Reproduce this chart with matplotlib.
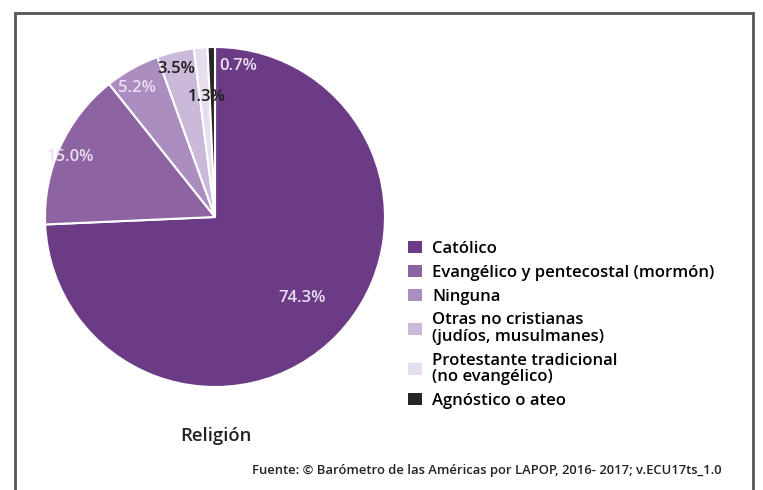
"""
plot.py - Religion pie chart (Barómetro de las Américas, LAPOP 2016-2017).
"""

import matplotlib
matplotlib.use("Agg")
import matplotlib.pyplot as plt
import numpy as np
from matplotlib.patches import Patch, Rectangle

W, H = 763, 490

categories = [
    "Católico",
    "Evangélico y pentecostal (mormón)",
    "Ninguna",
    "Otras no cristianas\n(judíos, musulmanes)",
    "Protestante tradicional\n(no evangélico)",
    "Agnóstico o ateo",
]
shares = [74.3, 15.0, 5.2, 3.5, 1.3, 0.7]

colors = ["#6c3b86", "#8d63a1", "#ac8dbf", "#cbb9d9", "#e6deee", "#262626"]
label_colors = ["#eadff2", "#eadff2", "#eadff2", "#1e1e1e", "#1e1e1e", "#eadff2"]
# radius (fraction of pie radius) and angular nudge (deg) for each value label
label_r = [0.70, 0.92, 0.89, 0.90, 0.71, 0.90]
label_dang = [1, 2, 2, 1, -1, -10]

plt.rcParams["font.family"] = ["Open Sans", "DejaVu Sans"]


def px(x, y):
    """pixel position (top-left origin) -> figure fraction"""
    return x / W, 1 - y / H


fig = plt.figure(figsize=(W / 100, H / 100), dpi=100)
fig.patch.set_facecolor("white")

# outer frame
fig.patches.append(Rectangle(px(15, 500), (753 - 15) / W, (500 - 13) / H,
                             transform=fig.transFigure, fill=False,
                             edgecolor="#555555", linewidth=2, clip_on=False))

cx, cy, r = 215, 217, 170
ax = fig.add_axes([(cx - r) / W, (H - cy - r) / H, 2 * r / W, 2 * r / H])
wedges, _ = ax.pie(shares, colors=colors, startangle=90, counterclock=False,
                   radius=1, wedgeprops=dict(edgecolor="white", linewidth=1.5))
ax.set_xlim(-1, 1)
ax.set_ylim(-1, 1)
ax.set_aspect("equal")
ax.axis("off")

for w, v, c, rr, da in zip(wedges, shares, label_colors, label_r, label_dang):
    ang = np.deg2rad((w.theta1 + w.theta2) / 2 + da)
    ax.text(rr * np.cos(ang), rr * np.sin(ang), f"{v:.1f}%", color=c,
            ha="center", va="center", fontsize=12, fontweight="semibold")

handles = [Patch(facecolor=c, edgecolor="none") for c in colors]
leg = fig.legend(handles, categories, loc="upper left", bbox_to_anchor=px(408, 241),
                 frameon=False, borderpad=0, borderaxespad=0,
                 labelspacing=0.47, handlelength=0.85, handleheight=0.75,
                 handletextpad=0.6, prop=dict(weight="semibold", size=12))
for t in leg.get_texts():
    t.set_linespacing(1.02)

fig.text(*px(180, 436), "Religión", fontsize=13.3, fontweight="semibold",
         ha="left", va="center", color="#222222")
fig.text(*px(722, 470), "Fuente: © Barómetro de las Américas por LAPOP, 2016- 2017; v.ECU17ts_1.0",
         fontsize=9.4, fontweight="semibold", ha="right", va="center", color="#222222")

fig.savefig("out.png", dpi=100)
